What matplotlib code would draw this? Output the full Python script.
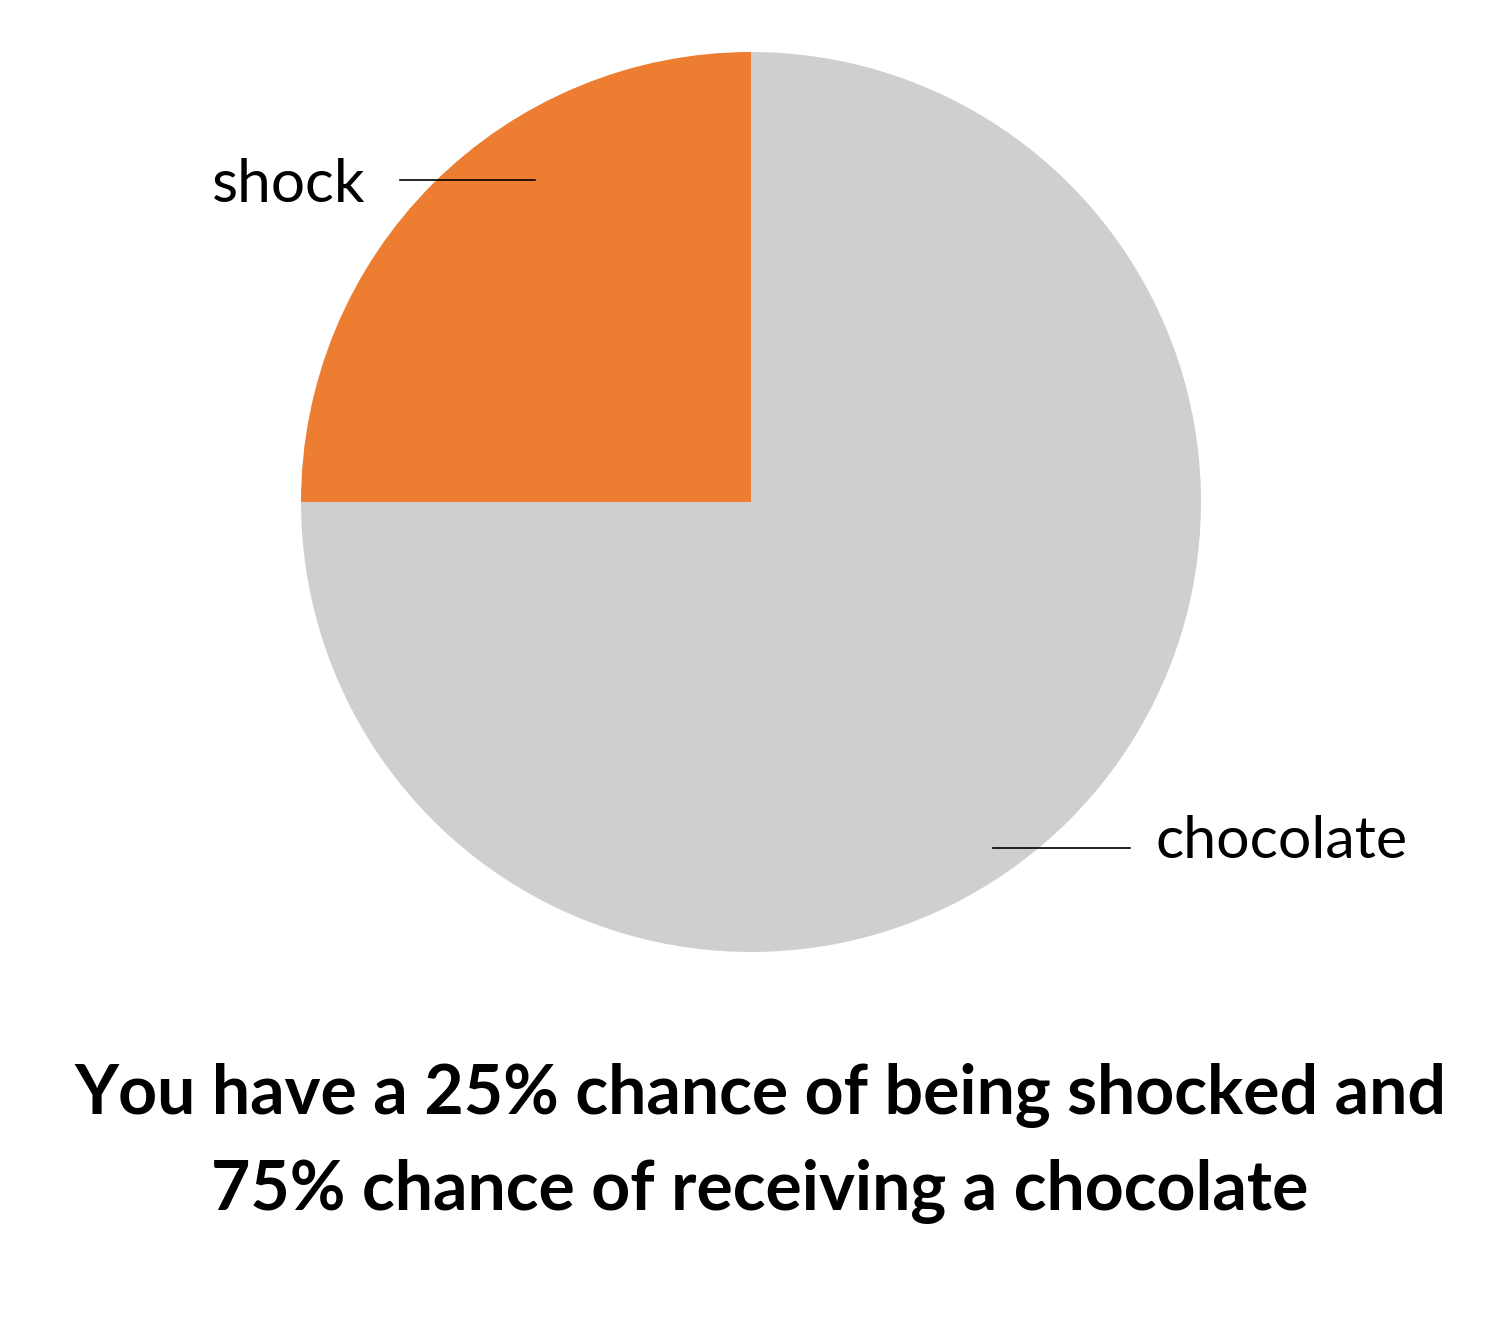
import matplotlib.pyplot as plt

# data
labels = ["shock", "chocolate"]
shares = [25, 75]
colors = ["#ED7D31", "#D0CECE"]
title_lines = ["You have a 25% chance of being shocked and",
               "75% chance of receiving a chocolate"]

plt.rcParams['font.family'] = ['Lato', 'DejaVu Sans']

W, H = 1503, 1329
fig = plt.figure(figsize=(W / 100, H / 100), dpi=100)
ax = fig.add_axes([0, 0, 1, 1])

# pie in pixel-like coords (y measured from bottom)
cx, cy, r = 751, H - 502, 450
ax.pie(shares, colors=colors, startangle=90, counterclock=True,
       center=(cx, cy), radius=r, wedgeprops=dict(linewidth=0))

ax.set_xlim(0, W)
ax.set_ylim(0, H)
ax.set_aspect('equal')
ax.axis('off')

# leader lines and labels
ax.plot([400, 535], [H - 180, H - 180], color="black", lw=1.2)
ax.text(365, H - 185, labels[0], fontsize=43.5, ha="right", va="center")
ax.plot([993, 1130], [H - 848, H - 848], color="black", lw=1.2)
ax.text(1155, H - 842, labels[1], fontsize=42.5, ha="left", va="center")

# title below the pie
ax.text(760, H - 1096, title_lines[0], fontsize=49, fontweight="bold",
        ha="center", va="center")
ax.text(760, H - 1192, title_lines[1], fontsize=49, fontweight="bold",
        ha="center", va="center")

fig.savefig("out.png", dpi=100, facecolor="white")
